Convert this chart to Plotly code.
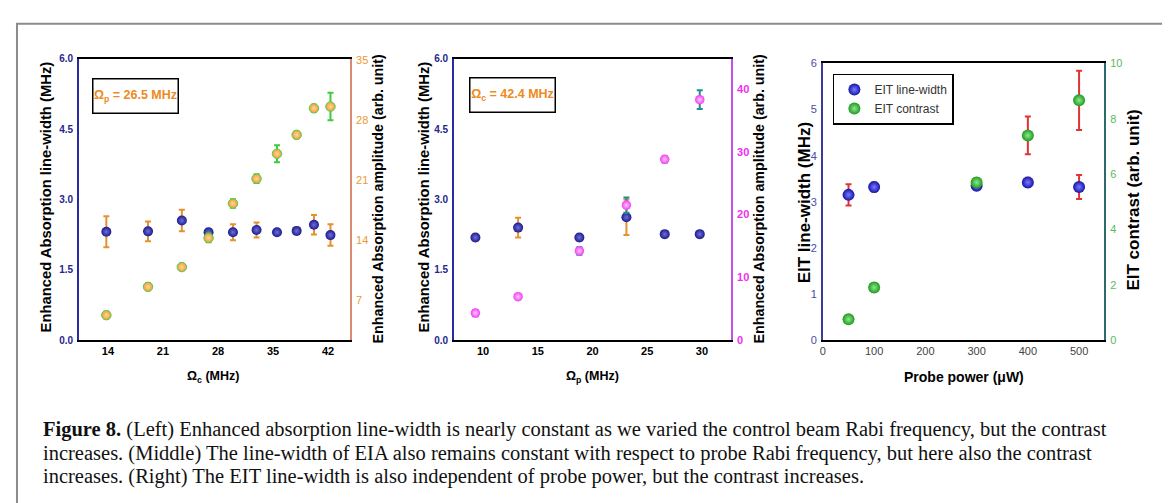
import plotly.graph_objects as go

W, H = 1170, 503

# ---------------- data ----------------
# Left panel: vary control Rabi frequency
omega_c = [13.8, 19.1, 23.4, 26.8, 29.9, 32.9, 35.5, 38.0, 40.2, 42.3]
eia_width_left = [2.31, 2.32, 2.55, 2.30, 2.30, 2.35, 2.30, 2.33, 2.46, 2.24]
eia_width_left_err = [0.33, 0.21, 0.23, 0.07, 0.17, 0.16, 0.05, 0.07, 0.21, 0.23]
amplitude_left = [5.3, 8.6, 10.9, 14.3, 18.3, 21.2, 24.1, 26.3, 29.4, 29.6]
amplitude_left_err = [0.4, 0.4, 0.3, 0.5, 0.5, 0.5, 1.0, 0.4, 0.4, 1.6]

# Middle panel: vary probe Rabi frequency
omega_p = [9.3, 13.2, 18.8, 23.1, 26.6, 29.8]
eia_width_mid = [2.19, 2.40, 2.19, 2.62, 2.26, 2.26]
eia_width_mid_err = [0.07, 0.21, 0.07, 0.38, 0.07, 0.07]
amplitude_mid = [4.3, 6.9, 14.2, 21.5, 28.8, 38.3]
amplitude_mid_err = [0.5, 0.4, 0.6, 1.2, 0.5, 1.5]

# Right panel: vary probe power
probe_power = [50, 100, 300, 400, 500]
eit_width = [3.15, 3.32, 3.35, 3.42, 3.32]
eit_width_err = [0.23, 0.10, 0.08, 0.10, 0.26]
eit_contrast = [0.75, 1.9, 5.7, 7.4, 8.67]
eit_contrast_err = [0.12, 0.15, 0.15, 0.68, 1.07]

# tick labels
left_y_ticks = [0, 1.5, 3.0, 4.5, 6.0]
left_y2_ticks = [7, 14, 21, 28, 35]
left_x_ticks = [14, 21, 28, 35, 42]
mid_y2_ticks = [0, 10, 20, 30, 40]
mid_x_ticks = [10, 15, 20, 25, 30]
right_y_ticks = [0, 1, 2, 3, 4, 5, 6]
right_y2_ticks = [0, 2, 4, 6, 8, 10]
right_x_ticks = [0, 100, 200, 300, 400, 500]

caption_lines = [
    "<b>Figure 8.</b> (Left) Enhanced absorption line-width is nearly constant as we varied the control beam Rabi frequency, but the contrast",
    "increases. (Middle) The line-width of EIA also remains constant with respect to probe Rabi frequency, but here also the contrast",
    "increases. (Right) The EIT line-width is also independent of probe power, but the contrast increases.",
]

# ---------------- styles ----------------
NAVY = "#1c1b8e"
ORANGE = "#f39a2e"
MAGENTA = "#f43ef4"
NARROW = "Liberation Sans Narrow, Arial Narrow, Liberation Sans, Arial"
SANS = "Liberation Sans, Arial"
SERIF = "Liberation Serif, Times New Roman, serif"


def px(x):
    return x / W


def py(y):
    return 1 - y / H


def sphere(color, center, size):
    return dict(color=color, size=size,
                gradient=dict(type="radial", color=center),
                line=dict(width=0))


fig = go.Figure()

# left panel
fig.add_trace(go.Scatter(
    x=omega_c, y=eia_width_left, mode="markers", xaxis="x", yaxis="y",
    marker=sphere(NAVY, "#6f6fd8", 10), showlegend=False,
    error_y=dict(type="data", array=eia_width_left_err, color="#e3922e", thickness=2, width=3)))
fig.add_trace(go.Scatter(
    x=omega_c, y=amplitude_left, mode="markers", xaxis="x", yaxis="y2",
    marker=dict(color=ORANGE, size=9.5, gradient=dict(type="radial", color="#ffd9a8"),
                line=dict(width=1, color="#4fd04f")), showlegend=False,
    error_y=dict(type="data", array=amplitude_left_err, color="#3ccc3c", thickness=2, width=3)))

# middle panel
fig.add_trace(go.Scatter(
    x=omega_p, y=eia_width_mid, mode="markers", xaxis="x2", yaxis="y3",
    marker=sphere(NAVY, "#6f6fd8", 10), showlegend=False,
    error_y=dict(type="data", array=eia_width_mid_err, color="#e3922e", thickness=2, width=3)))
fig.add_trace(go.Scatter(
    x=omega_p, y=amplitude_mid, mode="markers", xaxis="x2", yaxis="y4",
    marker=sphere(MAGENTA, "#ffc8ff", 9.5), showlegend=False,
    error_y=dict(type="data", array=amplitude_mid_err, color="#1f8f8f", thickness=2, width=3)))

# right panel
fig.add_trace(go.Scatter(
    x=probe_power, y=eit_width, mode="markers", xaxis="x3", yaxis="y5",
    name="EIT line-width", marker=sphere("#1515a8", "#7a7aff", 12),
    error_y=dict(type="data", array=eit_width_err, color="#e03434", thickness=2, width=3)))
fig.add_trace(go.Scatter(
    x=probe_power, y=eit_contrast, mode="markers", xaxis="x3", yaxis="y6",
    name="EIT contrast", marker=sphere("#1f9a1f", "#8ee88e", 12),
    error_y=dict(type="data", array=eit_contrast_err, color="#e03434", thickness=2, width=3)))

ydom = [py(334), py(46)]
ydom_r = [py(334), py(50.7)]

bold_tick = dict(family=NARROW, size=11, weight="bold")


def xax(domain, rng, ticks, anchor, font):
    return dict(domain=domain, range=rng, tickvals=ticks, anchor=anchor,
                showline=True, linecolor="black", linewidth=2, mirror=True,
                ticks="", showgrid=False, zeroline=False, tickfont=font)


def yax(dom, rng, ticks, anchor, color, font, fmt=None, side="left", overlaying=None):
    d = dict(range=rng, tickvals=ticks, anchor=anchor, side=side,
             showline=True, linecolor=color, linewidth=1.5, ticks="",
             showgrid=False, zeroline=False, tickfont=font, ticklabelstandoff=2)
    if overlaying:
        d["overlaying"] = overlaying
    else:
        d["domain"] = dom
    if fmt:
        d["tickformat"] = fmt
    return d


fig.update_layout(
    width=W, height=H, margin=dict(l=0, r=0, t=0, b=0),
    paper_bgcolor="white", plot_bgcolor="rgba(0,0,0,0)",
    xaxis=xax([px(68), px(340)], [10.3, 44.8], left_x_ticks, "y", dict(bold_tick, color="black")),
    yaxis=yax(ydom, [0, 6.001], left_y_ticks, "x", "#2a2aa6", dict(bold_tick, color="#26268c", size=10), ".1f"),
    yaxis2=yax(ydom, [2.4, 35.15], left_y2_ticks, "x", "#db8a72", dict(family=NARROW, size=11, color="#eb9a36"),
               side="right", overlaying="y"),
    xaxis2=xax([px(444), px(722)], [7.33, 32.67], mid_x_ticks, "y3", dict(bold_tick, color="black")),
    yaxis3=yax(ydom, [0, 6.001], left_y_ticks, "x2", "#2a2aa6", dict(bold_tick, color="#26268c", size=10), ".1f"),
    yaxis4=yax(ydom, [0, 44.8], mid_y2_ticks, "x2", "#c24ff0", dict(family=NARROW, size=11, color="#ee30ee", weight="bold"),
               side="right", overlaying="y3"),
    xaxis3=xax([px(814), px(1096)], [0, 549], right_x_ticks, "y5", dict(family=SANS, size=11, color="#444")),
    yaxis5=yax(ydom_r, [0, 6.001], right_y_ticks, "x3", "#3a3a9c", dict(family=SANS, size=11, color="#4b4ba0")),
    yaxis6=yax(ydom_r, [0, 10.001], right_y2_ticks, "x3", "#2d6b6b", dict(family=SANS, size=11, color="#5cb85c"),
               side="right", overlaying="y5"),
    legend=dict(x=px(824), y=py(61), xanchor="left", yanchor="top",
                bordercolor="black", borderwidth=1.5, bgcolor="white",
                font=dict(family=SANS, size=12, color="#333"), itemwidth=30,
                tracegroupgap=0),
)

annotations = []


def note(x, y, text, font, **kw):
    d = dict(x=px(x), y=py(y), xref="paper", yref="paper", text=text, showarrow=False,
             xanchor="center", yanchor="middle", font=font)
    d.update(kw)
    annotations.append(d)


# axis titles
title_font = dict(family=SANS, color="black", weight="bold")
for x, y, text, s in [(35, 187, "Enhanced Absorption line-width (MHz)", 14.8),
                      (368, 189, "Enhanced Absorption amplitude (arb. unit)", 14.3),
                      (414, 187, "Enhanced Absorption line-width (MHz)", 14.8),
                      (750, 189, "Enhanced Absorption amplitude (arb. unit)", 14.3),
                      (795, 193, "EIT line-width (MHz)", 17),
                      (1125, 191, "EIT contrast (arb. unit)", 17)]:
    note(x, y, text, dict(title_font, size=s), textangle=-90)
for x, text, f in [(203, "Ω<sub>c</sub> (MHz)", dict(family=NARROW, size=12.5, color="black", weight="bold")),
                   (583, "Ω<sub>p</sub> (MHz)", dict(family=NARROW, size=12.5, color="black", weight="bold")),
                   (955, "Probe power (μW)", dict(family=SANS, size=14, color="black", weight="bold"))]:
    note(x, 372, text, f)
# parameter boxes
for x, y, text in [(124.5, 84, "Ω<sub>p</sub> = 26.5 MHz"), (503, 82.5, "Ω<sub>c</sub> = 42.4 MHz")]:
    note(x, y, text, dict(family=NARROW, size=12.5, color="#ee8a22", weight="bold"),
         width=84, height=33, bgcolor="white", bordercolor="black", borderwidth=1.5, borderpad=0)
# caption
for i, line in enumerate(caption_lines):
    note(30, 426 + 24 * i, line, dict(family=SERIF, size=20.5, color="#111"), xanchor="left")
fig.update_layout(annotations=annotations)

fig.add_shape(type="rect", xref="paper", yref="paper", x0=px(6), x1=px(1162), y0=-0.05, y1=py(10),
              line=dict(color="#8c8c8c", width=2), fillcolor="rgba(0,0,0,0)", layer="below")

fig.write_html("out.html")
